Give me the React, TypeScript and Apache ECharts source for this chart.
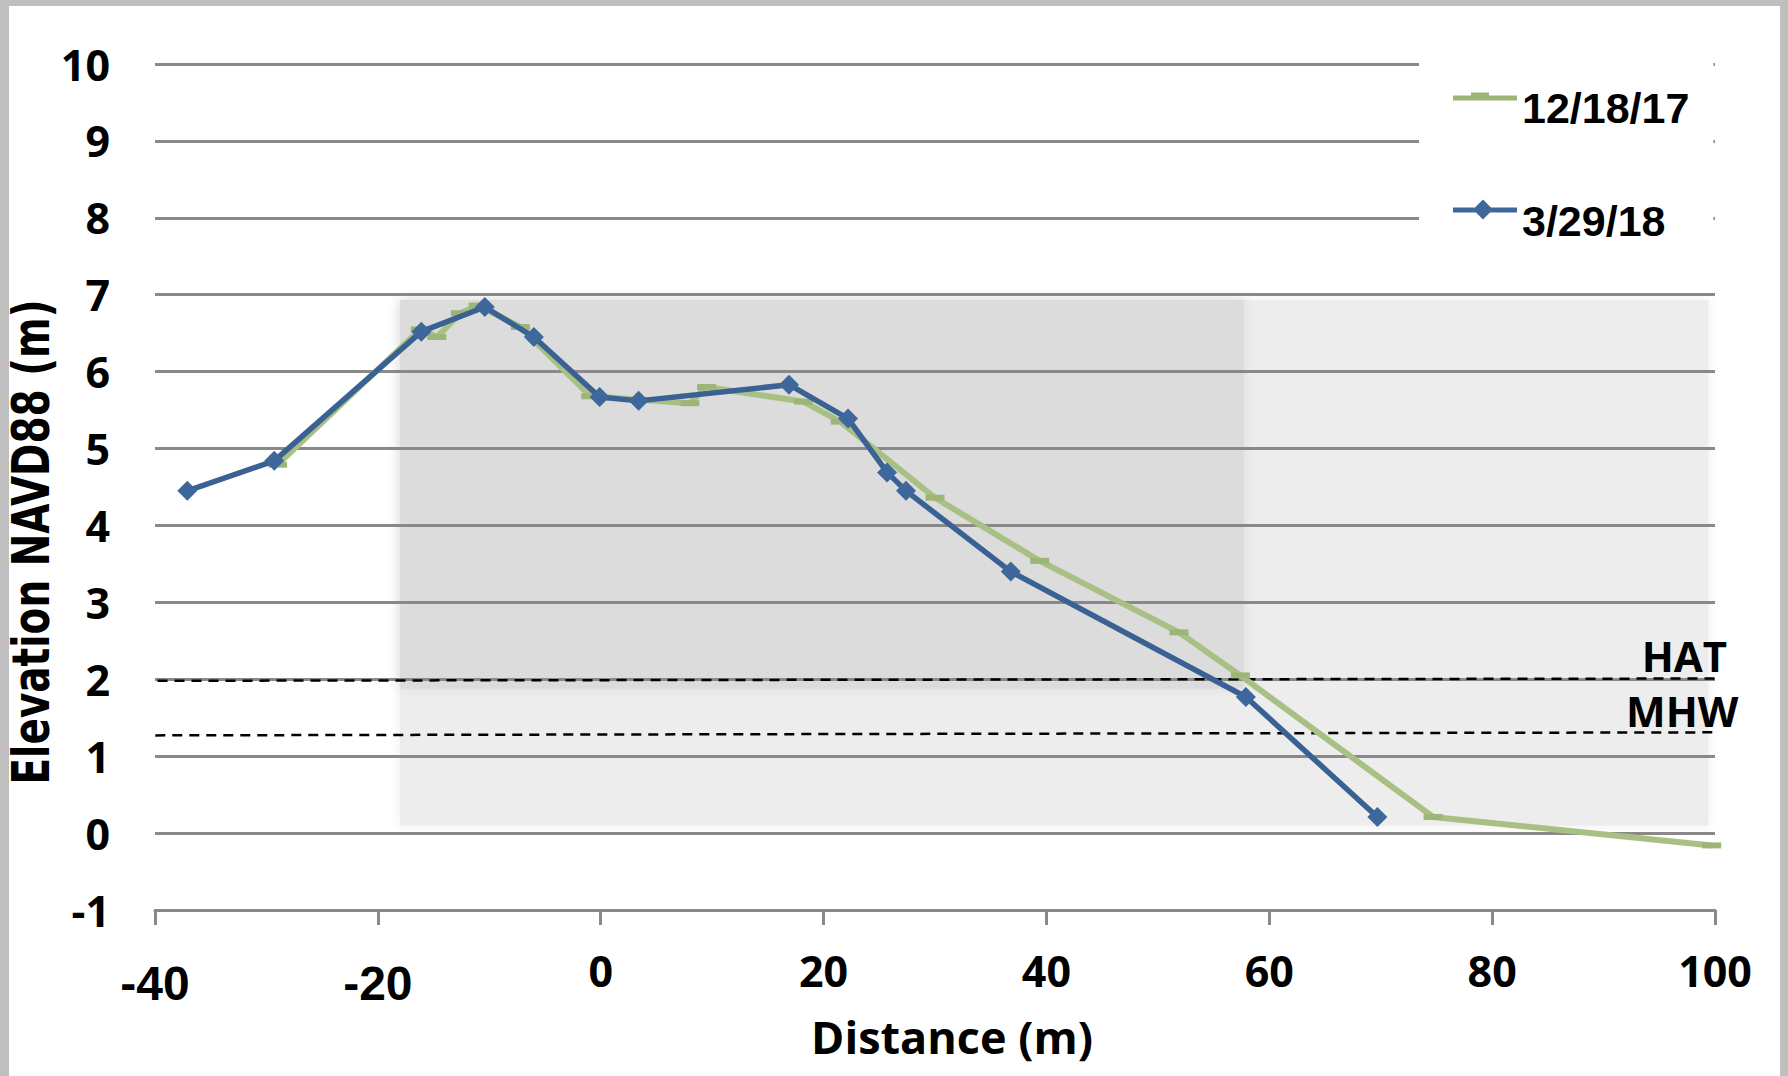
import React, { useEffect, useRef } from "react";
import * as echarts from "echarts";

// ---- axes ----
const X_MIN = -40;
const X_MAX = 100;
const X_STEP = 20;
const Y_MIN = -1;
const Y_MAX = 10;
const Y_STEP = 1;

const xTitle = "Distance (m)";
const yTitle = "Elevation NAVD88 (m)";

// ---- survey 12/18/17 (green) ----
const dec2017Name = "12/18/17";
const dec2017Distance = [-29.0, -16.2, -14.7, -12.6, -11.0, -7.2, -0.9, 8.0, 9.5, 18.2, 21.5, 30.0, 39.4, 51.9, 57.4, 74.7, 99.7];
const dec2017Elevation = [4.79, 6.55, 6.45, 6.76, 6.86, 6.58, 5.68, 5.59, 5.80, 5.61, 5.35, 4.36, 3.54, 2.61, 2.05, 0.21, -0.16];

// ---- survey 3/29/18 (blue) ----
const mar2018Name = "3/29/18";
const mar2018Distance = [-37.1, -29.3, -16.1, -10.4, -6.0, -0.1, 3.4, 16.9, 22.2, 25.7, 27.4, 36.8, 57.9, 69.7];
const mar2018Elevation = [4.45, 4.84, 6.52, 6.84, 6.45, 5.67, 5.62, 5.83, 5.39, 4.69, 4.45, 3.40, 1.77, 0.21];

// ---- tidal datums ----
const hatName = "HAT";
const hatDistance = [-41.3, 100.4];
const hatElevation = [1.98, 2.01];
const mhwName = "MHW";
const mhwDistance = [-41.5, 100.2];
const mhwElevation = [1.27, 1.31];

// ---- shaded zones ----
const shadeLeft = [-18, -18];
const shadeRight = [99.4, 57.7];
const shadeTop = [6.93, 6.93];
const shadeBottom = [0.1, 1.88];
const shadeColors = ["#ededed", "#dcdcdc"];

const GREEN_LINE = "#a8c083";
const GREEN_MARK = "#9db678";
const BLUE_LINE = "#3a6193";
const BLUE_MARK = "#3e689c";

function zip(xs: number[], ys: number[]) {
  return xs.map((x, i) => [x, ys[i]]);
}

function datumData(xs: number[], ys: number[], name: string, offset: number[]) {
  return xs.map((x, i) =>
    i === xs.length - 1
      ? {
          value: [x, ys[i]],
          label: {
            show: true,
            formatter: name,
            position: "top",
            offset,
            fontFamily: "Open Sans",
            fontWeight: "bold",
            fontSize: 42,
            lineHeight: 44,
            color: "#000",
          },
        }
      : { value: [x, ys[i]] }
  );
}

export default function App() {
  const ref = useRef<HTMLDivElement>(null);

  useEffect(() => {
    if (!ref.current) return;
    const chart = echarts.init(ref.current, undefined, { renderer: "svg" });

    const datumSeries = (name: string, xs: number[], ys: number[], offset: number[]) => ({
      type: "line",
      name,
      data: datumData(xs, ys, name, offset),
      symbol: "circle",
      symbolSize: 1,
      showSymbol: true,
      clip: false,
      silent: true,
      itemStyle: { color: "rgba(0,0,0,0)" },
      lineStyle: { color: "#000", width: 2.5, type: [10, 7] },
      z: 3,
    });

    const option: any = {
      animation: false,
      backgroundColor: "transparent",
      grid: { left: 155, right: 73, top: 64, bottom: 166, containLabel: false },
      xAxis: {
        type: "value",
        min: X_MIN,
        max: X_MAX,
        interval: X_STEP,
        name: xTitle,
        nameLocation: "middle",
        nameGap: 100,
        nameTextStyle: {
          fontFamily: "Open Sans",
          fontWeight: "bold",
          fontSize: 45,
          lineHeight: 50,
          color: "#000",
          padding: [0, 0, 0, 34],
        },
        axisLine: { show: true, onZero: false, lineStyle: { color: "#898989", width: 3 } },
        axisTick: { show: true, length: 15, lineStyle: { color: "#898989", width: 3 } },
        splitLine: { show: false },
        axisLabel: {
          margin: 38,
          formatter: (v: number) => (v < 0 ? `{neg|${v}}` : `{pos|${v}}`),
          rich: {
            pos: { fontFamily: "Open Sans", fontWeight: "bold", fontSize: 43, lineHeight: 44, color: "#000" },
            neg: { fontFamily: "Liberation Sans", fontWeight: "bold", fontSize: 48, lineHeight: 70, color: "#000" },
          },
        },
      },
      yAxis: {
        type: "value",
        min: Y_MIN,
        max: Y_MAX,
        interval: Y_STEP,
        axisLine: { show: false },
        axisTick: { show: false },
        splitLine: { show: true, lineStyle: { color: "#898989", width: 3 } },
        axisLabel: {
          margin: 45,
          fontFamily: "Open Sans",
          fontWeight: "bold",
          fontSize: 43,
          color: "#000",
        },
      },
      legend: {
        orient: "vertical",
        left: 1419,
        top: 48,
        padding: [16, 24, 12, 34],
        itemGap: 48,
        itemWidth: 64,
        itemHeight: 20,
        backgroundColor: "#ffffff",
        formatter: "{t|{name}}",
        textStyle: {
          fontFamily: "Liberation Sans",
          fontWeight: "bold",
          fontSize: 43,
          color: "#000",
          rich: {
            t: {
              fontFamily: "Liberation Sans",
              fontWeight: "bold",
              fontSize: 43,
              lineHeight: 44,
              color: "#000",
              padding: [22, 0, 0, 0],
            },
          },
        },
        data: [
          { name: dec2017Name, icon: "path://M0,3h64v5h-64z M18,0h18v5h-18z" },
          { name: mar2018Name, icon: "path://M0,8h64v5h-64z M30,0l10,10l-10,10l-10,-10z" },
        ],
      },
      graphic: [
        {
          type: "text",
          x: 32,
          y: 542,
          rotation: Math.PI / 2,
          scaleY: 1.3,
          style: {
            text: yTitle,
            font: 'bold 39px "DejaVu Sans"',
            fill: "#000",
            align: "center",
            verticalAlign: "middle",
          },
        },
      ],
      series: [
        {
          type: "custom",
          name: "zones",
          z: -1,
          silent: true,
          encode: { x: [0, 2], y: [1, 3] },
          data: shadeLeft.map((x, i) => [x, shadeTop[i], shadeRight[i], shadeBottom[i]]),
          renderItem: (params: any, api: any) => {
            const p0 = api.coord([api.value(0), api.value(1)]);
            const p1 = api.coord([api.value(2), api.value(3)]);
            const c = shadeColors[params.dataIndex];
            return {
              type: "rect",
              shape: { x: p0[0], y: p0[1], width: p1[0] - p0[0], height: p1[1] - p0[1] },
              style: { fill: c, shadowBlur: 12, shadowColor: c },
            };
          },
        },
        datumSeries(hatName, hatDistance, hatElevation, [-35, 4]),
        datumSeries(mhwName, mhwDistance, mhwElevation, [-35, 6]),
        {
          type: "line",
          name: dec2017Name,
          data: zip(dec2017Distance, dec2017Elevation),
          symbol: "rect",
          symbolSize: [19, 6],
          showSymbol: true,
          itemStyle: { color: GREEN_MARK },
          lineStyle: { color: GREEN_LINE, width: 6 },
          color: GREEN_LINE,
          z: 4,
        },
        {
          type: "line",
          name: mar2018Name,
          data: zip(mar2018Distance, mar2018Elevation),
          symbol: "diamond",
          symbolSize: 20,
          showSymbol: true,
          itemStyle: { color: BLUE_MARK },
          lineStyle: { color: BLUE_LINE, width: 5.5 },
          color: BLUE_MARK,
          z: 5,
        },
      ],
    };

    chart.setOption(option);
    return () => chart.dispose();
  }, []);

  return (
    <div
      style={{
        position: "absolute",
        left: 0,
        top: 0,
        width: 1788,
        height: 1076,
        boxSizing: "border-box",
        background: "#ffffff",
        borderTop: "6px solid #bfbfbf",
        borderLeft: "9px solid #bfbfbf",
        borderRight: "8px solid #bfbfbf",
        overflow: "hidden",
      }}
    >
      <div ref={ref} style={{ position: "absolute", left: -9, top: -6, width: 1788, height: 1076 }} />
    </div>
  );
}
